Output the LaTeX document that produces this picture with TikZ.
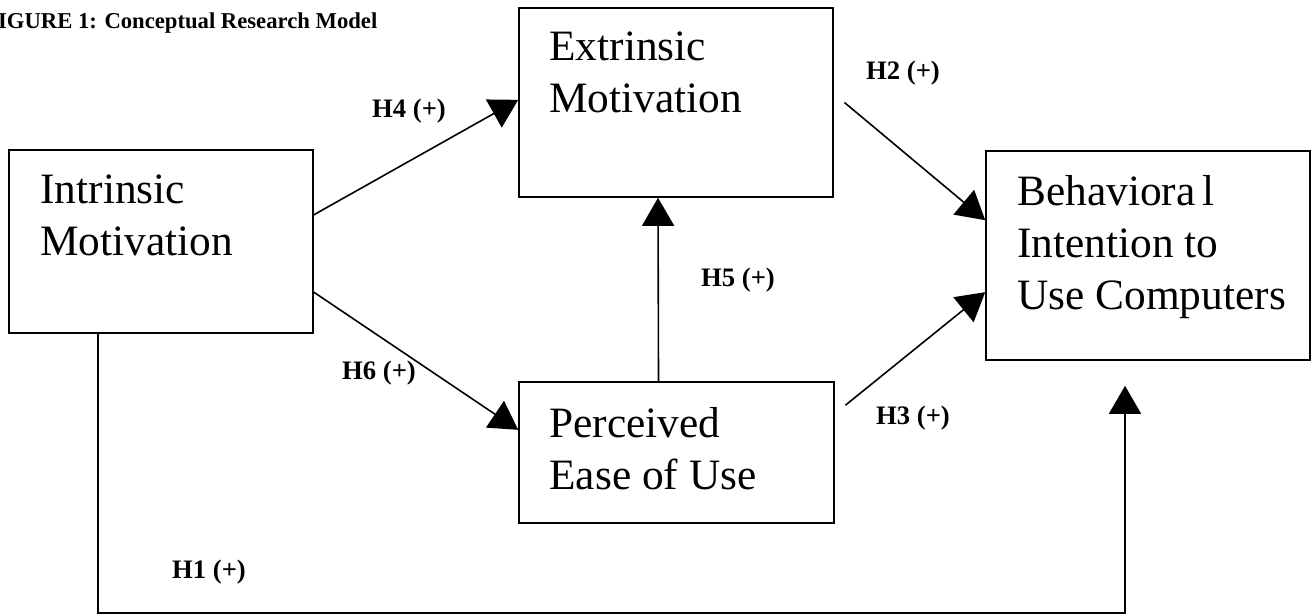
\documentclass[tikz,border=0pt]{standalone}
\usepackage{fontspec}
\setmainfont{Liberation Serif}
\usetikzlibrary{arrows.meta,positioning}

\tikzset{
  construct/.style={draw, line width=1.2pt, inner sep=0pt},
  boxtext/.style={inner sep=0pt, align=left, font=\fontsize{32.5}{39}\selectfont},
  hyplabel/.style={inner sep=0pt, font=\fontsize{20}{24}\selectfont\bfseries},
  link/.style={line width=1.2pt, -{Triangle[length=21pt,width=24pt]}}
}

\begin{document}
\begin{tikzpicture}[x=0.75pt,y=0.75pt,yscale=-1,xscale=1]
\useasboundingbox (0,0) rectangle (1312,615);

% Title
\node (title) [anchor=base west, inner sep=0pt, font=\fontsize{17}{20}\selectfont\bfseries] at (-16,28) {FIGURE 1: Conceptual Research Model};

%Shape: Rectangle
\node (intr) [construct, minimum width=228pt, minimum height=137.25pt] at (161,241.5) {};
%Shape: Rectangle
\node (extr) [construct, minimum width=235.5pt, minimum height=141.75pt] at (676,102.5) {};
%Shape: Rectangle
\node (peou) [construct, minimum width=236.25pt, minimum height=105.75pt] at (676.5,452.5) {};
%Shape: Rectangle
\node (bi) [construct, minimum width=243pt, minimum height=156.75pt] at (1148,255.5) {};

% Text Node
\node (intrtext) [boxtext, below right=18.75pt and 24pt of intr.north west] {Intrinsic\\Motivation};
% Text Node
\node (extrtext) [boxtext, below right=18pt and 23.25pt of extr.north west] {Extrinsic\\Motivation};
% Text Node
\node (peoutext) [boxtext, below right=19.5pt and 23.25pt of peou.north west] {Perceived\\Ease of Use};
% Text Node
\node (bitext) [boxtext, below right=18.75pt and 24pt of bi.north west] {Behaviora\,l\\Intention to\\Use Computers};

%Straight Lines (yshift follows yscale=-1: negative is up)
\draw [link] ([yshift=-20pt]intr.east) -- ([yshift=-2pt]extr.west);
%Straight Lines
\draw [link] ([yshift=38pt]intr.east) -- ([yshift=-17pt]peou.west);
%Straight Lines
\draw [link] ([xshift=-13.5pt]peou.north) -- ([xshift=-13.5pt]extr.south);
%Straight Lines
\draw [link] ([xshift=8pt]extr.east) -- ([yshift=-26.5pt]bi.west);
%Straight Lines
\draw [link] ([xshift=8pt,yshift=-35.5pt]peou.east) -- ([yshift=27.5pt]bi.west);

% Elbow line
\coordinate (h1start) at (98,613);
\coordinate (h1end) at (1125,613);
\draw [link, shorten >=18.75pt] (h1start |- intr.south) -- (h1start) -- (h1end) -- (h1end |- bi.south);

% Text Node
\node (h4) [hyplabel] at (409,111) {H4 (+)};
% Text Node
\node (h2) [hyplabel] at (903,73) {H2 (+)};
% Text Node
\node (h5) [hyplabel] at (738,280) {H5 (+)};
% Text Node
\node (h6) [hyplabel] at (379,373) {H6 (+)};
% Text Node
\node (h3) [hyplabel] at (913,418) {H3 (+)};
% Text Node
\node (h1) [hyplabel] at (209,572) {H1 (+)};

\end{tikzpicture}
\end{document}
